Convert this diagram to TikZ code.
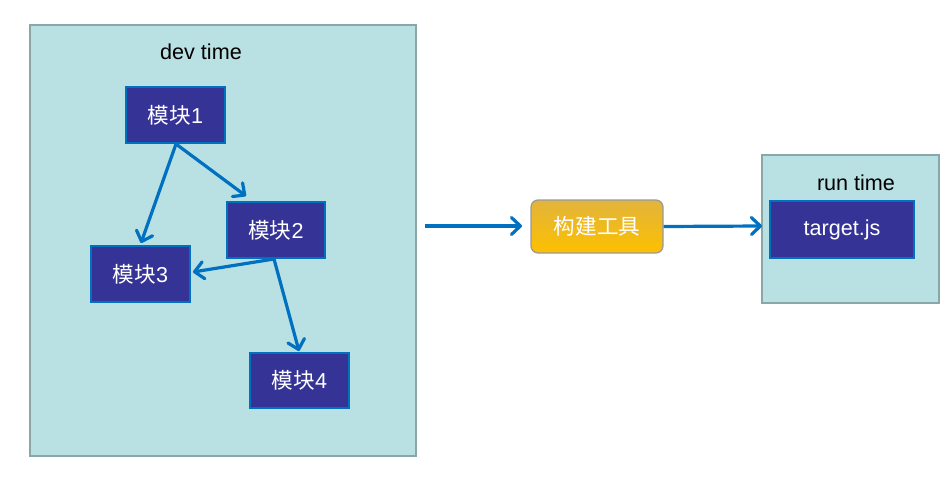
\documentclass[tikz,border=0pt]{standalone}
\usepackage{fontspec}
\setmainfont{Liberation Sans}
\newfontfamily\cjk{Noto Sans CJK SC}
\usetikzlibrary{arrows.meta}
\definecolor{panel}{HTML}{B9E0E3}
\definecolor{panelborder}{HTML}{8AA7A8}
\definecolor{modfill}{HTML}{363397}
\definecolor{modborder}{HTML}{0070C0}
\definecolor{arr}{HTML}{0070C0}
\definecolor{goldtop}{HTML}{E2B43C}
\definecolor{goldbot}{HTML}{FCC000}
\tikzset{
  panelbox/.style={draw=panelborder, fill=panel, line width=1.8pt},
  modbox/.style={draw=modborder, fill=modfill, line width=2pt, text=white, font=\fontsize{21.6}{24}\selectfont, inner sep=0pt},
  conn/.style={draw=arr, line width=3.2pt, -{Straight Barb[length=9pt,width=17pt,line width=3.2pt,round]}},
  lbl/.style={font=\fontsize{21.6}{24}\selectfont, text=black, inner sep=0pt}
}
\begin{document}
\begin{tikzpicture}[x=1pt,y=-1pt]
\useasboundingbox (0,0) rectangle (952,487);
% panels
\draw[panelbox] (30,25) rectangle (416,456);
\node[lbl] (devlbl) at (201,52) {dev time};
\draw[panelbox] (762,155) rectangle (939,303);
\node[lbl] (runlbl) at (856,183) {run time};
% modules
\node[modbox, minimum width=99pt, minimum height=56pt] (m1) at (175.5,115) {{\cjk 模块}1};
\node[modbox, minimum width=98pt, minimum height=56pt] (m2) at (276,230) {{\cjk 模块}2};
\node[modbox, minimum width=99pt, minimum height=56pt] (m3) at (140.5,274) {{\cjk 模块}3};
\node[modbox, minimum width=99pt, minimum height=55pt] (m4) at (299.5,380.5) {{\cjk 模块}4};
\node[modbox, minimum width=144pt, minimum height=57pt] (tg) at (842,229.5) {target.js};
% build tool
\node[draw=gray!80, line width=1.2pt, rounded corners=7pt, top color=goldtop, bottom color=goldbot, minimum width=132pt, minimum height=53pt, text=white, font=\fontsize{21.6}{24}\cjk] (bt) at (597,226.5) {构建工具};
% connectors
\coordinate (m1b) at (176,144);
\coordinate (m2b) at (274,259);
\draw[conn] (m1b) -- (141,243);
\draw[conn] (m1b) -- (246,196);
\draw[conn] (m2b) -- (193,272);
\draw[conn] (m2b) -- (299,351);
\coordinate (devout) at (425,226);
\coordinate (btin) at (522,226);
\draw[conn] (devout) -- (btin);
\draw[conn] (bt.east) -- (762,226);
\end{tikzpicture}
\end{document}
